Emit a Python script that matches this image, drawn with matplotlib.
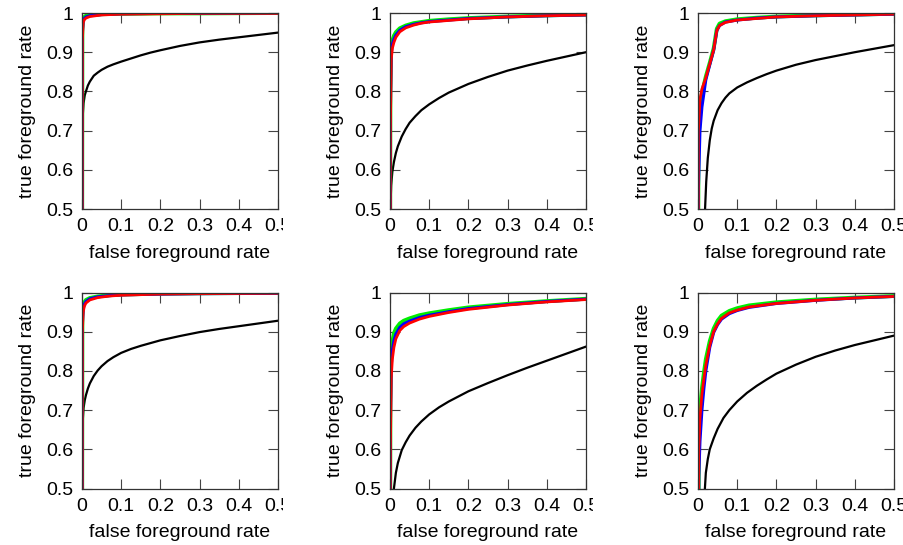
import matplotlib
matplotlib.use("Agg")
import matplotlib.pyplot as plt
from matplotlib.transforms import Bbox, TransformedBbox

plt.rcParams["font.family"] = ["Liberation Sans", "DejaVu Sans"]
plt.rcParams["font.size"] = 14

# ROC curves, six panels (row-major). Each panel: black, green, blue, red.
# panel 1 (top left)
fpr_k1 = [0, 0.0005, 0.001, 0.002, 0.004, 0.007, 0.01, 0.015, 0.02, 0.03, 0.04, 0.05, 0.065, 0.08,
          0.1, 0.125, 0.15, 0.175, 0.2, 0.25, 0.3, 0.35, 0.4, 0.45, 0.5]
tpr_k1 = [0.0, 0.66, 0.70, 0.74, 0.77, 0.79, 0.80, 0.815, 0.825, 0.84, 0.848, 0.855, 0.863, 0.869,
          0.876, 0.884, 0.892, 0.899, 0.905, 0.916, 0.925, 0.932, 0.938, 0.944, 0.950]
fpr_c1 = [0, 0.001, 0.003, 0.006, 0.01, 0.02, 0.05, 0.1, 0.2, 0.3, 0.5]
tpr_g1 = [0.0, 0.96, 0.985, 0.990, 0.993, 0.995, 0.997, 0.998, 0.999, 0.999, 1.000]
tpr_b1 = [0.0, 0.95, 0.980, 0.986, 0.990, 0.993, 0.996, 0.998, 0.999, 0.999, 1.000]
tpr_r1 = [0.0, 0.93, 0.975, 0.983, 0.987, 0.991, 0.995, 0.997, 0.998, 0.999, 0.999]

# panel 2 (top middle)
fpr_k2 = [0, 0.001, 0.003, 0.006, 0.01, 0.015, 0.02, 0.03, 0.04, 0.05, 0.065, 0.08, 0.1, 0.125,
          0.15, 0.175, 0.2, 0.25, 0.3, 0.35, 0.4, 0.45, 0.5]
tpr_k2 = [0.0, 0.50, 0.56, 0.595, 0.62, 0.643, 0.66, 0.685, 0.704, 0.72, 0.737, 0.752, 0.767, 0.783,
          0.797, 0.808, 0.819, 0.837, 0.853, 0.866, 0.878, 0.889, 0.900]
fpr_c2 = [0, 0.001, 0.003, 0.006, 0.01, 0.015, 0.025, 0.04, 0.06, 0.08, 0.1, 0.15, 0.2, 0.3, 0.4, 0.5]
tpr_g2 = [0.0, 0.80, 0.910, 0.930, 0.942, 0.951, 0.961, 0.968, 0.974, 0.977, 0.980, 0.984, 0.987, 0.991, 0.994, 0.996]
tpr_b2 = [0.0, 0.75, 0.895, 0.920, 0.933, 0.944, 0.956, 0.965, 0.971, 0.975, 0.978, 0.982, 0.986, 0.990, 0.993, 0.995]
tpr_r2 = [0.0, 0.70, 0.880, 0.910, 0.925, 0.938, 0.952, 0.962, 0.969, 0.974, 0.977, 0.981, 0.985, 0.990, 0.993, 0.995]

# panel 3 (top right)
fpr_k3 = [0.015, 0.018, 0.021, 0.025, 0.03, 0.035, 0.04, 0.05, 0.06, 0.07, 0.08, 0.1, 0.125, 0.15,
          0.175, 0.2, 0.25, 0.3, 0.35, 0.4, 0.45, 0.5]
tpr_k3 = [0.40, 0.50, 0.57, 0.63, 0.675, 0.705, 0.725, 0.752, 0.77, 0.784, 0.795, 0.810, 0.823, 0.834,
          0.844, 0.853, 0.868, 0.880, 0.890, 0.900, 0.909, 0.918]
fpr_c3 = [0, 0.001, 0.005, 0.01, 0.02, 0.03, 0.04, 0.048, 0.055, 0.07, 0.1, 0.15, 0.2, 0.3, 0.4, 0.5]
tpr_g3 = [0.0, 0.65, 0.760, 0.795, 0.838, 0.873, 0.910, 0.960, 0.973, 0.979, 0.984, 0.988, 0.991, 0.994, 0.996, 0.998]
tpr_b3 = [0.0, 0.55, 0.700, 0.760, 0.830, 0.868, 0.905, 0.955, 0.968, 0.977, 0.982, 0.987, 0.990, 0.993, 0.995, 0.997]
tpr_r3 = [0.0, 0.70, 0.780, 0.806, 0.835, 0.870, 0.906, 0.955, 0.968, 0.976, 0.982, 0.986, 0.990, 0.993, 0.995, 0.997]

# panel 4 (bottom left)
fpr_k4 = [0, 0.0005, 0.001, 0.002, 0.004, 0.007, 0.01, 0.015, 0.02, 0.03, 0.04, 0.05, 0.065, 0.08,
          0.1, 0.125, 0.15, 0.175, 0.2, 0.25, 0.3, 0.35, 0.4, 0.45, 0.5]
tpr_k4 = [0.0, 0.60, 0.64, 0.675, 0.705, 0.725, 0.738, 0.755, 0.768, 0.787, 0.801, 0.812, 0.825, 0.835,
          0.846, 0.856, 0.864, 0.871, 0.878, 0.889, 0.899, 0.907, 0.914, 0.921, 0.928]
fpr_c4 = [0, 0.001, 0.003, 0.006, 0.01, 0.02, 0.04, 0.07, 0.1, 0.2, 0.3, 0.5]
tpr_g4 = [0.0, 0.94, 0.965, 0.975, 0.981, 0.986, 0.990, 0.993, 0.995, 0.997, 0.998, 0.999]
tpr_b4 = [0.0, 0.92, 0.958, 0.970, 0.977, 0.984, 0.989, 0.992, 0.994, 0.996, 0.997, 0.998]
tpr_r4 = [0.0, 0.90, 0.950, 0.965, 0.973, 0.981, 0.987, 0.991, 0.993, 0.996, 0.997, 0.998]

# panel 5 (bottom middle)
fpr_k5 = [0.004, 0.007, 0.01, 0.015, 0.02, 0.03, 0.04, 0.05, 0.065, 0.08, 0.1, 0.125, 0.15, 0.175,
          0.2, 0.25, 0.3, 0.35, 0.4, 0.45, 0.5]
tpr_k5 = [0.40, 0.46, 0.50, 0.54, 0.565, 0.598, 0.618, 0.635, 0.655, 0.671, 0.689, 0.707, 0.722, 0.735,
          0.748, 0.769, 0.789, 0.808, 0.826, 0.844, 0.862]
fpr_c5 = [0, 0.001, 0.003, 0.006, 0.01, 0.015, 0.025, 0.035, 0.05, 0.075, 0.1, 0.15, 0.2, 0.3, 0.4, 0.5]
tpr_g5 = [0.0, 0.72, 0.840, 0.875, 0.896, 0.908, 0.921, 0.928, 0.934, 0.942, 0.947, 0.955, 0.962, 0.971, 0.978, 0.984]
tpr_b5 = [0.0, 0.66, 0.810, 0.852, 0.877, 0.894, 0.911, 0.920, 0.927, 0.936, 0.942, 0.951, 0.959, 0.969, 0.977, 0.983]
tpr_r5 = [0.0, 0.60, 0.780, 0.830, 0.860, 0.882, 0.903, 0.913, 0.922, 0.932, 0.939, 0.949, 0.957, 0.968, 0.976, 0.982]

# panel 6 (bottom right)
fpr_k6 = [0.014, 0.017, 0.02, 0.025, 0.03, 0.04, 0.05, 0.065, 0.08, 0.1, 0.125, 0.15, 0.175, 0.2,
          0.25, 0.3, 0.35, 0.4, 0.45, 0.5]
tpr_k6 = [0.42, 0.49, 0.54, 0.575, 0.60, 0.628, 0.652, 0.680, 0.700, 0.722, 0.744, 0.762, 0.778, 0.793,
          0.816, 0.836, 0.852, 0.866, 0.878, 0.890]
fpr_c6 = [0, 0.002, 0.005, 0.01, 0.015, 0.02, 0.03, 0.04, 0.05, 0.06, 0.08, 0.1, 0.13, 0.2, 0.3, 0.4, 0.5]
tpr_g6 = [0.0, 0.62, 0.70, 0.755, 0.795, 0.830, 0.876, 0.908, 0.928, 0.941, 0.953, 0.960, 0.967, 0.975, 0.982, 0.987, 0.991]
tpr_b6 = [0.0, 0.53, 0.62, 0.700, 0.755, 0.800, 0.860, 0.898, 0.918, 0.932, 0.946, 0.954, 0.962, 0.972, 0.980, 0.986, 0.990]
tpr_r6 = [0.0, 0.60, 0.68, 0.740, 0.780, 0.815, 0.865, 0.900, 0.920, 0.934, 0.948, 0.955, 0.963, 0.972, 0.980, 0.986, 0.990]

xticks = [0, 0.1, 0.2, 0.3, 0.4, 0.5]
xticklabels = ["0", "0.1", "0.2", "0.3", "0.4", "0.5"]
yticks = [0.5, 0.6, 0.7, 0.8, 0.9, 1.0]
yticklabels = ["0.5", "0.6", "0.7", "0.8", "0.9", "1"]

panels = [
    (fpr_k1, tpr_k1, fpr_c1, tpr_g1, tpr_b1, tpr_r1),
    (fpr_k2, tpr_k2, fpr_c2, tpr_g2, tpr_b2, tpr_r2),
    (fpr_k3, tpr_k3, fpr_c3, tpr_g3, tpr_b3, tpr_r3),
    (fpr_k4, tpr_k4, fpr_c4, tpr_g4, tpr_b4, tpr_r4),
    (fpr_k5, tpr_k5, fpr_c5, tpr_g5, tpr_b5, tpr_r5),
    (fpr_k6, tpr_k6, fpr_c6, tpr_g6, tpr_b6, tpr_r6),
]

W, H = 904, 545
fig = plt.figure(figsize=(W / 100, H / 100), dpi=100)

col_left = [82, 390, 698]
row_top = [13, 292.5]
size = 196
clip_right = [283, 593, W]

for i, (fk, tk, fc, tg, tb, tr) in enumerate(panels):
    r, c = divmod(i, 3)
    ax = fig.add_axes([col_left[c] / W, (H - row_top[r] - size) / H, size / W, size / H])
    ax.plot(fk, tk, color="black", lw=1.6)
    ax.plot(fc, tg, color="#00ee00", lw=2.8)
    ax.plot(fc, tb, color="#0000ff", lw=2.2)
    ax.plot(fc, tr, color="#ff0000", lw=2.0)
    ax.set_xlim(0, 0.5)
    ax.set_ylim(0.5, 1.0)
    ax.set_xticks(xticks)
    ax.set_xticklabels(xticklabels)
    ax.set_yticks(yticks)
    ax.set_yticklabels(yticklabels)
    ax.tick_params(direction="in", length=7, width=0.8, color="#444444",
                   top=True, right=True, pad=6.5)
    for sp in ax.spines.values():
        sp.set_color("#333333")
        sp.set_linewidth(0.9)
    ax.set_xlabel("false foreground rate", labelpad=7)
    ax.set_ylabel("true foreground rate", labelpad=7)
    # the original panels were cut at the right, chopping the last x label
    box = TransformedBbox(Bbox([[0, 0], [clip_right[c] / W, 1]]), fig.transFigure)
    for lab in ax.get_xticklabels():
        lab.set_clip_on(True)
        lab.set_clip_box(box)

fig.savefig("out.png", dpi=100)
